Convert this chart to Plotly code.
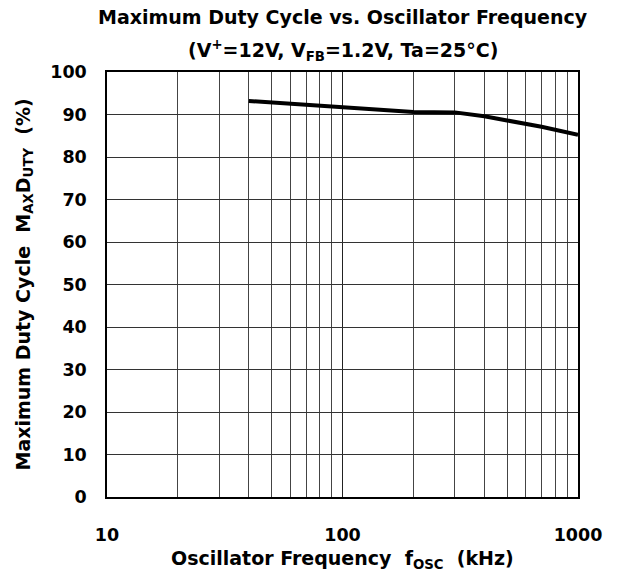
import plotly.graph_objects as go

# Data
freq_khz = [40, 100, 200, 300, 400, 500, 700, 1000]
max_duty = [93.2, 91.7, 90.6, 90.5, 89.6, 88.6, 87.1, 85.2]

x_major_vals = [10, 100, 1000]
x_major_text = ["10", "100", "1000"]
x_minor_vals = [20, 30, 40, 50, 60, 70, 80, 90,
                200, 300, 400, 500, 600, 700, 800, 900]
y_tick_vals = [0, 10, 20, 30, 40, 50, 60, 70, 80, 90, 100]

FONT = "DejaVu Sans, Liberation Sans, Arial, sans-serif"
TICK_SIZE = 17.5
TITLE_SIZE = 19

fig = go.Figure()
fig.add_trace(go.Scatter(
    x=freq_khz, y=max_duty, mode="lines",
    line=dict(color="black", width=4),
    showlegend=False, hoverinfo="skip",
))

fig.update_layout(
    width=620, height=576,
    margin=dict(l=99, r=50, t=64, b=87),
    paper_bgcolor="white", plot_bgcolor="white",
    font=dict(family=FONT, color="black", size=16),
    xaxis=dict(
        type="log", range=[1, 3],
        tickvals=x_major_vals, ticktext=x_major_text,
        showgrid=True, gridcolor="#222", gridwidth=1,
        minor=dict(tickvals=x_minor_vals, showgrid=True,
                   gridcolor="#444", gridwidth=1, ticks=""),
        showline=True, linecolor="black", linewidth=1.5, mirror=True,
        ticks="", ticklabelstandoff=21,
        tickfont=dict(family=FONT, size=TICK_SIZE, color="black", weight="bold"),
        zeroline=False,
    ),
    yaxis=dict(
        range=[0, 100], tickvals=y_tick_vals,
        showgrid=True, gridcolor="#333", gridwidth=1,
        showline=True, linecolor="black", linewidth=1.5, mirror=True,
        ticks="", ticklabelstandoff=15,
        tickfont=dict(family=FONT, size=TICK_SIZE, color="black", weight="bold"),
        zeroline=False,
    ),
)

fig.add_annotation(
    text="<b>Maximum Duty Cycle vs. Oscillator Frequency</b>",
    xref="paper", yref="paper", x=0.5, y=1, yshift=55, xanchor="center", yanchor="middle",
    showarrow=False, font=dict(family=FONT, size=TITLE_SIZE, color="black"),
)
fig.add_annotation(
    text="<b>(V<sup>+</sup>=12V, V<sub>FB</sub>=1.2V, Ta=25°C)</b>",
    xref="paper", yref="paper", x=0.5, y=1, yshift=22, xanchor="center", yanchor="middle",
    showarrow=False, font=dict(family=FONT, size=TITLE_SIZE, color="black"),
)
fig.add_annotation(
    text="<b>Oscillator Frequency  f<sub>OSC</sub>  (kHz)</b>",
    xref="paper", yref="paper", x=0.5, y=0, yshift=-62, xanchor="center", yanchor="middle",
    showarrow=False, font=dict(family=FONT, size=TITLE_SIZE, color="black"),
)
fig.add_annotation(
    text="<b>Maximum Duty Cycle  M<sub>AX</sub>D<sub>UTY</sub>  (%)</b>",
    xref="paper", yref="paper", x=0, y=0.5, xshift=-83, xanchor="center", yanchor="middle",
    textangle=-90, showarrow=False, font=dict(family=FONT, size=TITLE_SIZE, color="black"),
)

fig.write_html("out.html")
